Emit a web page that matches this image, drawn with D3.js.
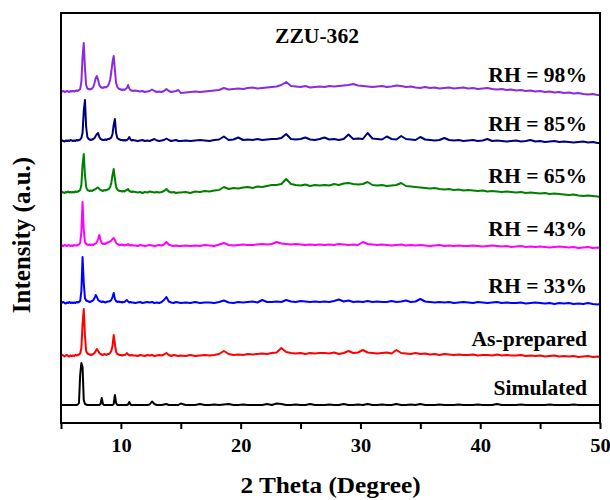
<!DOCTYPE html>
<html>
<head>
<meta charset="utf-8">
<script src="https://cdn.jsdelivr.net/npm/d3@7"></script>
<style>
  html, body { margin: 0; padding: 0; background: #fff; }
  svg { display: block; }
  text { font-family: "Liberation Serif", "Times New Roman", serif; font-weight: bold; fill: #000; }
</style>
</head>
<body>
<svg id="chart" width="610" height="500"></svg>
<script>
// 2θ sampling angles (degrees): fine steps through the low-angle peaks, coarser above.
const twoTheta = [
  5.0,5.1,5.2,5.3,5.4,5.5,5.6,5.7,5.8,5.9,
  6.0,6.1,6.2,6.3,6.4,6.5,6.6,6.7,6.8,6.9,
  7.0,7.1,7.2,7.3,7.4,7.5,7.6,7.7,7.8,7.9,
  8.0,8.1,8.2,8.3,8.4,8.5,8.6,8.7,8.8,8.9,
  9.0,9.1,9.2,9.3,9.4,9.5,9.6,9.7,9.8,9.9,
  10.0,10.1,10.2,10.3,10.4,10.5,10.6,10.7,10.8,10.9,
  11.0,
  11.2,11.4,11.6,11.8,12.0,12.2,12.4,12.6,12.8,13.0,13.2,13.4,13.6,13.8,14.0,14.2,14.4,14.6,14.8,
  15.0,15.4,15.8,16.2,16.6,17.0,17.4,17.8,18.2,18.6,
  19.0,19.4,19.8,20.2,20.6,21.0,21.4,21.8,22.2,22.6,
  23.0,23.4,23.8,24.2,24.6,25.0,25.4,25.8,26.2,26.6,
  27.0,27.4,27.8,28.2,28.6,29.0,29.4,29.8,30.2,30.6,
  31.0,31.4,31.8,32.2,32.6,33.0,33.4,33.8,34.2,34.6,
  35.0,35.4,35.8,36.2,36.6,37.0,37.4,37.8,38.2,38.6,
  39.0,39.4,39.8,40.2,40.6,41.0,41.4,41.8,42.2,42.6,
  43.0,43.4,43.8,44.2,44.6,45.0,45.4,45.8,46.2,46.6,
  47.0,47.4,47.8,48.2,48.6,49.0,49.4,49.8,50.0
];

// Intensities (a.u.) of each pattern, one value per angle above.
const simulated = [
  0,0,0,0,0,0,0,0,0,0,
  0,0,0,0,0.5,2,30,42,38,5,
  1,0.5,0,0,0,0,0,0,0,0,
  0,0,0,1,7,1,0,0,0,0,
  0,0,0,0,1,10,2,0,0,0,
  0,0,0,0,0,0,0.5,3,0.5,0,
  0,
  0,0,0,0,0,0,0.5,3.5,1,0,0,0,0.5,1,0,0,0,0,0,
  1.5,0,0,0,1,0,0,0.5,0,0.5,
  1,0,0,0.5,0,0,0,0,1,0,
  1.5,1,0,0,0.5,0,0,1,0,0,
  0,0.5,0,0,1,0,0,0.5,0,1,
  0,0,0.5,0,0,1,0,0,0.5,0,
  1,0,0,0,0.5,0,0,0,0.5,0,
  0,0,0.5,0,0,0,1,0,0,0,
  0,0.5,0,0,0,0,0,0.5,0,0,
  0,0,0.5,0,0,0,0,0,0
];

const asPrepared = [
  0,1,0.5,-0.5,0.5,1,0,-0.5,0.5,0,
  0.5,0,1,0.5,1,1.5,2.5,8,32,47,
  20,5,2.5,2,1.5,1,1.5,2,3,5,
  7,5,3,2,1.5,1,2,1.5,1,2,
  2,3,5,10,21,12,4,2,1.5,1,
  1,0.5,1,1,1.5,3,1.5,1,0.5,1,
  0.5,
  0.5,0,1,0.5,0,1,0.5,1,0,0.5,1,0.5,1.5,3,1,0,1,0.5,0,
  0.5,0,1,0,0.5,1,0.5,1,2,5,
  2,1,1.5,1,2,1.5,2,2.5,2,3,
  3.5,8,4,3,2.5,3,2,3,2.5,3,
  3,2.5,3.5,2,3,5,3,3.5,6,3.5,
  3,2.5,3,3.5,2.5,6,3,2.5,2,3,
  2,2.5,1.5,2,1,2,1.5,1,1.5,1,
  1,1.5,0.5,1,1,0.5,1.5,0.5,1,0.5,
  0.5,1,0,0.5,0,0.5,-0.5,0,0.5,-0.5,
  0,-0.5,0,-1,-0.5,0,-1,-0.5,-1
];

const rh33 = [
  0,0.5,1,0,-0.5,0.5,0,1,0,0.5,
  0,0.5,0,1,0.5,1,2,12,46,20,
  5,2.5,2,1.5,1,1.5,2,3,5,8,
  6,3,2,1.5,1,1.5,1,0.5,1,1.5,
  1.5,2,3,6,10,4,2,1,1.5,1,
  1,0.5,1,1,2,3,1.5,0.5,1,0.5,
  0.5,
  0,0.5,1,0,0.5,1,0.5,1,0,0.5,0,1,3,6,1.5,0.5,0,1,0.5,
  0,0.5,0,1,0,0.5,0.5,0,1,2.5,
  0.5,0,1,0.5,1,1.5,0.5,3,1,1,
  1.5,1,3,1.5,1,2,1.5,1,1.5,1,
  1.5,1,2,3.5,1.5,2.5,1,1.5,1,2,
  1,1.5,1,1,2,1,1.5,2.5,1,1.5,
  4,1.5,1,0.5,1,0.5,1,0,0.5,1,
  0.5,0,1,0.5,0,0.5,1,0,0.5,0,
  0,0.5,-0.5,0,0.5,0,-0.5,0,-1,0,
  -0.5,0,-1,-0.5,-1,0,-1,-1.5,-1
];

const rh43 = [
  0,0.5,0,1,0.5,0,1,0.5,0,0.5,
  0,1,0.5,0.5,1,1.5,3,14,44,16,
  4,2,1.5,1,1.5,1,1.5,1,2,2.5,
  4,7,11,6,3,2,2.5,2,3,3.5,
  4,4.5,5.5,7,8,6,3,2,1.5,1,
  1,1.5,1,0.5,1,1,2,1,0.5,1,
  0.5,
  0.5,0,1,0.5,0,0.5,1,0.5,0,0.5,1,0.5,1.5,4,1.5,0.5,0,0.5,0,
  0,0.5,0,0.5,0,1,0.5,0,1.5,3,
  1,0.5,1,1.5,1,1,1.5,2,1.5,2,
  4,2.5,2,1.5,2,1.5,1,1.5,1,1.5,
  1,1.5,1,2,1.5,1,1.5,1,4,2,
  1.5,1,1.5,1,0.5,1,1.5,0.5,1,0.5,
  1,0.5,0,0.5,1,0,0.5,0,0.5,0,
  0,0.5,0,-0.5,0,0.5,0,-0.5,0,-1,
  -0.5,0,-1,-0.5,-1,-0.5,-1,-1.5,-1,-0.5,
  -1,-1.5,-1,-2,-1.5,-1,-2,-1.5,-2
];

const rh65 = [
  0,1,0.5,0,1,0.5,1.5,0.5,1,0.5,
  1,0.5,1.5,1,1.5,2,3,8,28,39,
  18,6,3,2.5,2,2.5,2,3,3.5,4,
  5,5.5,4,3,2.5,2,3,2.5,3,3.5,
  4,6,10,18,24,14,6,3.5,2.5,2,
  2,1.5,2,1.5,2.5,3,4,2,1.5,1,
  1.5,
  1,0.5,1,0,1,0.5,1.5,1,0.5,1,0.5,1,2,4,1.5,0.5,1,0,0.5,
  0.5,1,0,1.5,1,2,1.5,2.5,3,6,
  4,5,4.5,5.5,6,5,6.5,6,7,8,
  8,9,14,9,8,7.5,8.5,7,8,7.5,
  8,7.5,9,8,9.5,10,9,8.5,9,11,
  8,7.5,8,7,7.5,8,10,7,6.5,6,
  5.5,5,4.5,5,4,3.5,4,3,3.5,2.5,
  3,2.5,2,2.5,1.5,2,1.5,1,1.5,1,
  0.5,1,0,0.5,0,-0.5,0,-1,-0.5,-1,
  -1.5,-2,-1.5,-2.5,-3,-2.5,-3,-3.5,-4
];

const rh85 = [
  0,0.5,0,-0.5,0.5,0,0.5,0,1,0.5,
  0,0.5,0,1,0.5,1,1.5,3,8,30,
  41,14,4,2,1.5,1,1.5,2,3,5,
  7,8,4,2,1.5,1,1,1.5,1,2,
  2,2.5,3.5,7,16,22,8,3,2,1.5,
  1,1,0.5,1,0.5,1,2,4,1.5,0.5,
  1,
  0.5,0,0.5,1,0,0.5,0,1,2,0.5,0,0.5,1,2.5,1,0,0.5,1,0,
  0,0.5,0,0.5,1,0.5,0,1,1.5,4.5,
  1,1.5,3.5,1,1.5,1,2,1,1.5,2,
  2,3,7,2,1.5,2,3.5,1.5,1,2,
  3.5,1.5,2,1,2,6.5,2,2.5,2,8,
  2.5,2,1.5,4.5,2,1.5,5,2,1.5,1,
  4,1.5,1,0.5,1,3,1,0.5,1,0,
  0.5,1,0,0.5,2,0,0.5,0,-0.5,0,
  0.5,-0.5,0,1,-0.5,0,-1,-0.5,0,-1,
  -0.5,-1,-1.5,-1,-0.5,-1.5,-1,-2,-2
];

const rh98 = [
  0,0.5,1,0,0.5,1,0.5,0,1,0.5,
  1,0.5,1,1.5,1,2,3,10,35,49,
  24,7,3.5,3,2.5,3,3.5,5,9,14,
  16,12,7,5,4.5,4,5,4.5,5,6,
  8,12,20,30,36,22,9,5,3.5,3,
  2.5,2,2.5,2,3,4,7,3.5,2,1.5,
  1,
  1.5,1,0.5,1,0,0.5,1,2.5,1,0,0.5,0,1,3,1,0,0.5,1,2,
  -1,-0.5,0,0.5,0,0.5,1,1.5,2,4,
  2.5,3,3.5,3,4,4.5,3.5,4,4.5,5,
  5.5,7,10,6,5.5,5,6,4.5,5,5.5,
  5,6,5.5,6,6.5,7,8,6.5,6,5.5,
  5,5.5,6,5,5.5,6.5,6,5,5.5,4.5,
  4,5,4,4.5,3.5,4,4.5,3.5,4,4.5,
  3.5,4,3,3.5,4,3,2.5,3,2,2.5,
  1.5,2,1,1.5,0.5,1,0,0.5,-0.5,0,
  -1,-0.5,-1.5,-1,-2,-2.5,-2,-3,-3
];

// Patterns from bottom to top, their vertical stacking offsets (a.u.) and labels.
const patterns = [simulated, asPrepared, rh33, rh43, rh65, rh85, rh98];
const stackOffsets = [18, 67, 120, 177, 230, 282, 331];
const patternLabels = ["Simulated", "As-prepared", "RH = 33%", "RH = 43%", "RH = 65%", "RH = 85%", "RH = 98%"];
const xTicks = [5, 10, 15, 20, 25, 30, 35, 40, 45, 50];
const chartTitle = "ZZU-362";

const colors = ["#000000", "#ff0000", "#0000ff", "#ff00ff", "#008000", "#000080", "#8a2be2"];

const svg = d3.select("#chart");
svg.append("rect").attr("width", 610).attr("height", 500).attr("fill", "#fff");

const plot = { left: 61, right: 600, top: 13, bottom: 423 };
const x = d3.scaleLinear().domain([5, 50]).range([plot.left, plot.right]);
const y = d3.scaleLinear().domain([0, 410]).range([plot.bottom, plot.top]);

svg.append("clipPath").attr("id", "plot-clip")
  .append("rect")
  .attr("x", plot.left).attr("y", plot.top)
  .attr("width", plot.right - plot.left).attr("height", plot.bottom - plot.top);

const line = d3.line()
  .x(d => x(d[0]))
  .y(d => y(d[1]));

const traces = svg.append("g").attr("clip-path", "url(#plot-clip)");
patterns.forEach((vals, i) => {
  const n = Math.min(vals.length, twoTheta.length);
  const pts = [];
  for (let j = 0; j < n; j++) pts.push([twoTheta[j], vals[j] + stackOffsets[i]]);
  traces.append("path")
    .datum(pts)
    .attr("fill", "none")
    .attr("stroke", colors[i])
    .attr("stroke-width", 2)
    .attr("stroke-linejoin", "round")
    .attr("d", line);
});

// Pattern labels, right-aligned above the tail of each trace
const stretch = "scale(1.08,1)";
patternLabels.forEach((lbl, i) => {
  svg.append("g")
    .attr("transform", `translate(587,${y(stackOffsets[i]) - 10})`)
    .append("text")
    .attr("text-anchor", "end")
    .attr("transform", stretch)
    .style("font-size", "20px")
    .text(lbl);
});

// Sample name
svg.append("g")
  .attr("transform", "translate(317,43)")
  .append("text")
  .attr("text-anchor", "middle")
  .attr("transform", stretch)
  .style("font-size", "20px")
  .text(chartTitle);

// Bottom axis with outward ticks every 5°, labels every 10°
const xAxis = d3.axisBottom(x)
  .tickValues(xTicks)
  .tickSize(6)
  .tickSizeOuter(0)
  .tickFormat(d => (d % 10 === 0 ? d : ""));

const gx = svg.append("g")
  .attr("transform", `translate(0,${plot.bottom})`)
  .call(xAxis);
gx.select(".domain").remove();
gx.selectAll(".tick line").attr("stroke", "#000").attr("stroke-width", 2);
gx.selectAll(".tick text")
  .attr("y", 16)
  .attr("transform", stretch)
  .style("font-size", "19px")
  .style("font-family", "\"Liberation Serif\", \"Times New Roman\", serif")
  .style("font-weight", "bold")
  .attr("fill", "#000");

// Frame
svg.append("rect")
  .attr("x", plot.left).attr("y", plot.top)
  .attr("width", plot.right - plot.left).attr("height", plot.bottom - plot.top)
  .attr("fill", "none").attr("stroke", "#000").attr("stroke-width", 2);

// Axis titles
svg.append("g")
  .attr("transform", `translate(${(plot.left + plot.right) / 2},493)`)
  .append("text")
  .attr("text-anchor", "middle")
  .attr("transform", "scale(1.1,1)")
  .style("font-size", "23px")
  .text("2 Theta (Degree)");

svg.append("text")
  .attr("transform", "translate(30,235) rotate(-90)")
  .attr("text-anchor", "middle")
  .style("font-size", "25px")
  .text("Intensity (a.u.)");
</script>
</body>
</html>
